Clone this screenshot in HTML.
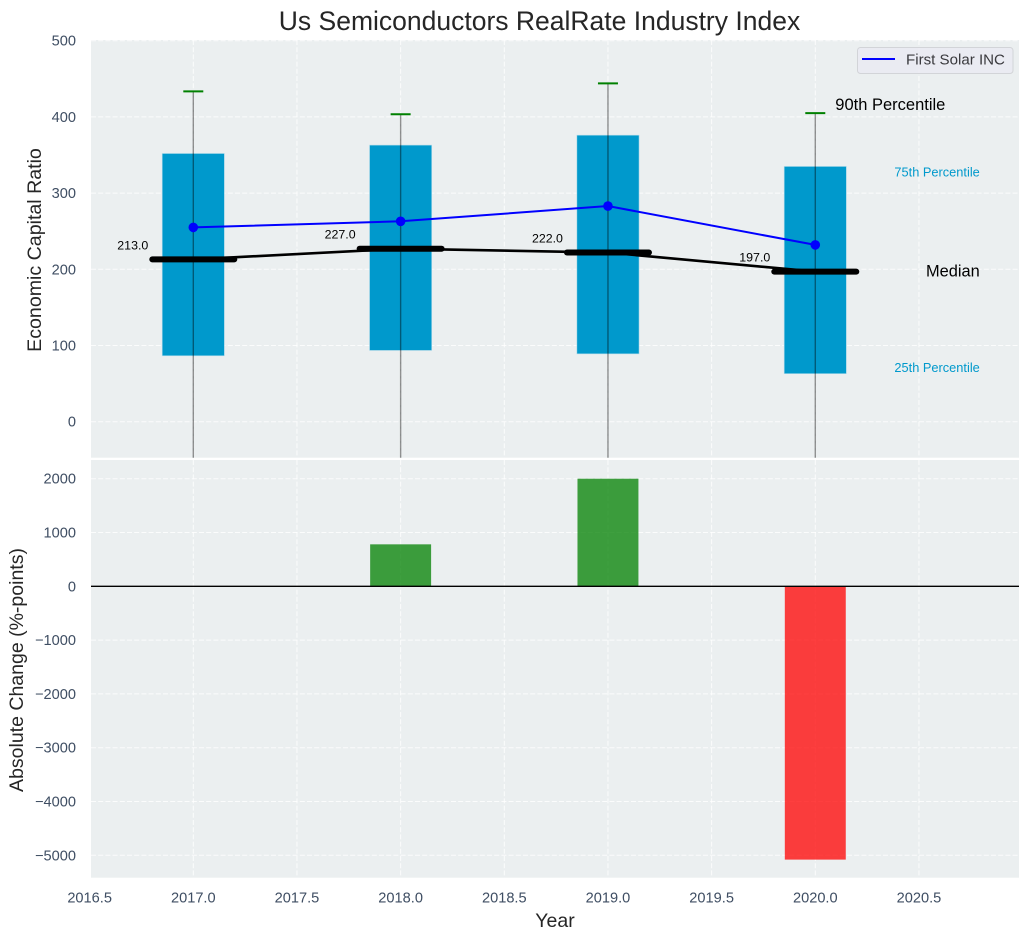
<!DOCTYPE html>
<html>
<head>
<meta charset="utf-8">
<title>Us Semiconductors RealRate Industry Index</title>
<style>
html,body{margin:0;padding:0;background:#fff;}
svg{display:block;font-family:"Liberation Sans",Arial,sans-serif;}
</style>
</head>
<body>
<svg id="chart" xmlns="http://www.w3.org/2000/svg" width="1029" height="940" viewBox="0 0 1029 940">
<defs>
<clipPath id="clip-top"><rect x="91" y="40" width="928" height="417.7"/></clipPath>
<clipPath id="clip-bottom"><rect x="91" y="460" width="928" height="417.7"/></clipPath>
</defs>
<text x="539.5" y="30" font-size="26.5" text-anchor="middle" fill="#262626">Us Semiconductors RealRate Industry Index</text>
<text transform="translate(41,250) rotate(-90)" font-size="19.6" text-anchor="middle" fill="#262626">Economic Capital Ratio</text>
<text transform="translate(23,670) rotate(-90)" font-size="19.5" text-anchor="middle" fill="#262626">Absolute Change (%-points)</text>
<text x="555" y="927" font-size="19.5" text-anchor="middle" fill="#262626">Year</text>
<g id="layer"></g>
</svg>
<script>
const categories = [2017, 2018, 2019, 2020];
const p90 = [433.5, 403.5, 444, 405];
const p75 = [352, 363, 376, 335];
const medians = [213, 227, 222, 197];
const p25 = [86.5, 93.5, 89, 63];
const p10 = [-90, -100, -95, -110];
const companySeries = [255, 263, 283, 232];
const changeValues = [0, 780, 2000, -5080];
const xTicks = [2016.5, 2017, 2017.5, 2018, 2018.5, 2019, 2019.5, 2020, 2020.5];
const topYTicks = [0, 100, 200, 300, 400, 500];
const bottomYTicks = [2000, 1000, 0, -1000, -2000, -3000, -4000, -5000];

const NS = 'http://www.w3.org/2000/svg';
const layer = document.getElementById('layer');
const xs = v => 193.3 + (v - 2017) * 207.33;
const yt = v => 421.7 - v * 0.762;
const yb = v => 586.3 - v * 0.0538;
const TOP = {t: 40, b: 457.7};
const BOT = {t: 460, b: 877.7};
const L = 91, R = 1019;

function mk(tag, attrs, parent) {
  const el = document.createElementNS(NS, tag);
  for (const k in attrs) el.setAttribute(k, attrs[k]);
  (parent || layer).appendChild(el);
  return el;
}
function fmt(v) { return v < 0 ? '\u2212' + Math.abs(v) : String(v); }

/* panels */
const panelTop = mk('rect', {x: L, y: TOP.t, width: R - L, height: TOP.b - TOP.t, fill: '#ebeff0'});


const panelBottom = mk('rect', {x: L, y: BOT.t, width: R - L, height: BOT.b - BOT.t, fill: '#ebeff0'});



const gridStyle = {stroke: '#ffffff', 'stroke-opacity': 0.8, 'stroke-width': 1, 'stroke-dasharray': '5 2.2', fill: 'none'};

/* x grid and tick labels */
xTicks.forEach(t => {
  const px = xs(t);
  if (px > L + 1) {
    const g1 = mk('line', Object.assign({x1: px, x2: px, y1: TOP.t, y2: TOP.b}, gridStyle));
    
    
    const g2 = mk('line', Object.assign({x1: px, x2: px, y1: BOT.t, y2: BOT.b}, gridStyle));
    
    
  }
  const lab = mk('text', {x: px, y: 902.5, 'font-size': 14.6, 'text-anchor': 'middle', fill: '#3f4e63'});
  lab.textContent = t.toFixed(1);
  
  
});

/* y grids and tick labels */
topYTicks.forEach(t => {
  const py = yt(t);
  const g = mk('line', Object.assign({x1: L, x2: R, y1: py, y2: py}, gridStyle));
  
  
  const lab = mk('text', {x: 76, y: py + 5, 'font-size': 14.6, 'text-anchor': 'end', fill: '#3f4e63'});
  lab.textContent = fmt(t);
  
  
});
bottomYTicks.forEach(t => {
  const py = yb(t);
  const g = mk('line', Object.assign({x1: L, x2: R, y1: py, y2: py}, gridStyle));
  
  
  const lab = mk('text', {x: 76, y: py + 5, 'font-size': 14.6, 'text-anchor': 'end', fill: '#3f4e63'});
  lab.textContent = fmt(t);
  
  
});

const topG = mk('g', {'clip-path': 'url(#clip-top)'});


const botG = mk('g', {'clip-path': 'url(#clip-bottom)'});



/* interquartile boxes */
categories.forEach((c, i) => {
  const box = mk('rect', {x: xs(c - 0.15), width: xs(c + 0.15) - xs(c - 0.15), y: yt(p75[i]), height: yt(p25[i]) - yt(p75[i]), fill: '#0099cc', stroke: '#b4dcea', 'stroke-width': 0.6}, topG);
  
  
});

/* whiskers and caps */
categories.forEach((c, i) => {
  const w = mk('line', {x1: xs(c), x2: xs(c), y1: yt(p90[i]), y2: yt(p10[i]), stroke: '#000', 'stroke-opacity': 0.42, 'stroke-width': 1.4}, topG);
  
  
  const cap = mk('line', {x1: xs(c) - 10, x2: xs(c) + 10, y1: yt(p90[i]), y2: yt(p90[i]), stroke: '#008000', 'stroke-width': 2}, topG);
  
  
});

/* median line */
const medLine = mk('polyline', {points: categories.map((c, i) => xs(c) + ',' + yt(medians[i])).join(' '), fill: 'none', stroke: '#000', 'stroke-width': 2.6}, topG);


categories.forEach((c, i) => {
  const m = mk('line', {x1: xs(c) - 41, x2: xs(c) + 41, y1: yt(medians[i]), y2: yt(medians[i]), stroke: '#000', 'stroke-width': 6, 'stroke-linecap': 'round'}, topG);
  
  
  const lab = mk('text', {x: xs(c) - 45, y: yt(medians[i]) - 10, 'font-size': 12.4, 'text-anchor': 'end', fill: '#000'}, topG);
  lab.textContent = medians[i].toFixed(1);
  
  
});

/* company series */
const coLine = mk('polyline', {points: categories.map((c, i) => xs(c) + ',' + yt(companySeries[i])).join(' '), fill: 'none', stroke: '#0000ff', 'stroke-width': 2}, topG);


categories.forEach((c, i) => {
  const p = mk('circle', {cx: xs(c), cy: yt(companySeries[i]), r: 4.8, fill: '#0000ff'}, topG);
  
  
});

/* percentile annotations, anchored on the last category */
const lastI = categories.length - 1;
const lastX = xs(categories[lastI]);
const a90 = mk('text', {x: lastX + 20, y: yt(p90[lastI]) - 3, 'font-size': 16.5, fill: '#000'}, topG);
a90.textContent = '90th Percentile';


const a75 = mk('text', {x: lastX + 164.5, y: yt(p75[lastI]) + 10, 'font-size': 12.8, 'text-anchor': 'end', fill: '#0099cc'}, topG);
a75.textContent = '75th Percentile';


const aMed = mk('text', {x: lastX + 164.5, y: yt(medians[lastI]) + 5, 'font-size': 16.4, 'text-anchor': 'end', fill: '#000'}, topG);
aMed.textContent = 'Median';


const a25 = mk('text', {x: lastX + 164.5, y: yt(p25[lastI]) - 1.6, 'font-size': 12.8, 'text-anchor': 'end', fill: '#0099cc'}, topG);
a25.textContent = '25th Percentile';



/* change bars */
categories.forEach((c, i) => {
  const v = changeValues[i];
  if (v === 0) return;
  const y0 = yb(Math.max(v, 0)), y1 = yb(Math.min(v, 0));
  const b = mk('rect', {x: xs(c - 0.147), width: xs(c + 0.147) - xs(c - 0.147), y: y0, height: y1 - y0, fill: v > 0 ? '#008000' : '#ff0000', 'fill-opacity': 0.75}, botG);
  
  
});
const zero = mk('line', {x1: L, x2: R, y1: yb(0), y2: yb(0), stroke: '#000', 'stroke-width': 1.4}, botG);



/* legend */
const legend = mk('g', {});


const legBox = mk('rect', {x: 857.5, y: 47.5, width: 155.5, height: 26, rx: 3, fill: '#eaeaf2', 'fill-opacity': 0.85, stroke: '#d2d4d8', 'stroke-width': 1}, legend);


const legLine = mk('line', {x1: 862, x2: 895, y1: 59, y2: 59, stroke: '#0000ff', 'stroke-width': 2}, legend);


const legText = mk('text', {x: 906, y: 64.5, 'font-size': 15.1, fill: '#3a3a3e'}, legend);
legText.textContent = 'First Solar INC';


</script>
</body>
</html>
